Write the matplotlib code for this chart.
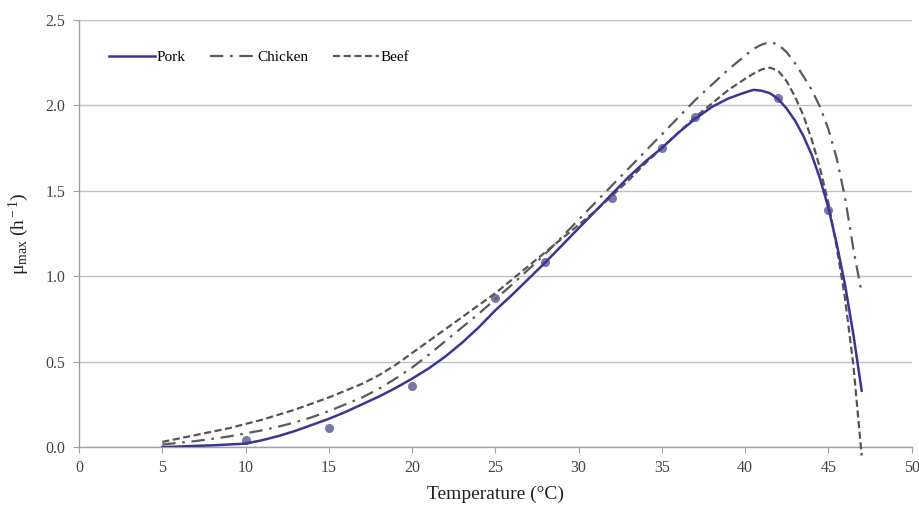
import matplotlib
matplotlib.use("Agg")
import matplotlib.pyplot as plt

temp_curve = [5, 6, 7, 8, 9, 10, 11, 12, 13, 14, 15, 16, 17, 18, 19, 20, 21, 22, 23, 24, 25,
              26, 27, 28, 29, 30, 31, 32, 33, 34, 35, 36, 37, 38, 39, 40, 40.5, 41, 41.5, 42,
              42.5, 43, 43.5, 44, 44.5, 45, 45.5, 46, 46.5, 47]

pork = [0.0, 0.003, 0.007, 0.01, 0.015, 0.02, 0.04, 0.065, 0.095, 0.13, 0.165, 0.205, 0.25,
        0.295, 0.345, 0.40, 0.46, 0.53, 0.61, 0.70, 0.80, 0.89, 0.985, 1.08, 1.18, 1.28, 1.38,
        1.48, 1.58, 1.67, 1.75, 1.84, 1.92, 1.99, 2.04, 2.075, 2.09, 2.085, 2.07, 2.035, 1.98,
        1.91, 1.82, 1.71, 1.57, 1.40, 1.19, 0.95, 0.66, 0.33]

chicken = [0.015, 0.025, 0.035, 0.048, 0.062, 0.08, 0.098, 0.12, 0.145, 0.175, 0.21, 0.25,
           0.29, 0.34, 0.40, 0.465, 0.54, 0.62, 0.70, 0.78, 0.865, 0.95, 1.04, 1.13, 1.23,
           1.33, 1.43, 1.53, 1.63, 1.73, 1.83, 1.93, 2.03, 2.12, 2.21, 2.29, 2.33, 2.355,
           2.37, 2.355, 2.31, 2.245, 2.17, 2.09, 1.99, 1.86, 1.69, 1.46, 1.16, 0.90]

beef = [0.03, 0.05, 0.07, 0.09, 0.11, 0.135, 0.16, 0.19, 0.22, 0.255, 0.29, 0.33, 0.37, 0.42,
        0.48, 0.55, 0.62, 0.69, 0.76, 0.83, 0.90, 0.98, 1.06, 1.14, 1.22, 1.30, 1.38, 1.47,
        1.56, 1.66, 1.75, 1.84, 1.93, 2.01, 2.09, 2.155, 2.185, 2.21, 2.22, 2.20, 2.14, 2.05,
        1.94, 1.80, 1.63, 1.43, 1.17, 0.87, 0.48, -0.05]

temp_obs = [10, 15, 20, 25, 28, 32, 35, 37, 42, 45]
pork_obs = [0.04, 0.11, 0.36, 0.87, 1.08, 1.46, 1.75, 1.93, 2.04, 1.39]

x_ticks = [0, 5, 10, 15, 20, 25, 30, 35, 40, 45, 50]
y_ticks = [0.0, 0.5, 1.0, 1.5, 2.0, 2.5]

plt.rcParams['font.family'] = ['Liberation Serif', 'DejaVu Serif']
plt.rcParams['mathtext.fontset'] = 'custom'
plt.rcParams['mathtext.rm'] = 'Liberation Serif'
plt.rcParams['mathtext.it'] = 'Liberation Serif:italic'

fig = plt.figure(figsize=(9.2, 5.08), dpi=100)
ax = fig.add_axes([0.0859, 0.120, 0.905, 0.841])

for y in y_ticks:
    ax.axhline(y, color='#c0c0c0', lw=1.0, zorder=0)

ax.plot(temp_obs, pork_obs, 'o', color='#7b76a8', ms=5.5, zorder=2, clip_on=False)
ax.plot(temp_curve, pork, '-', color='#3a3596', lw=1.8, label='Pork', zorder=4)
ax.plot(temp_curve, chicken, color='#5a5a5a', lw=1.6, dashes=(6, 3, 1.2, 3),
        label='Chicken', zorder=3, clip_on=False)
ax.plot(temp_curve, beef, color='#555555', lw=1.6, dashes=(3.2, 1.6),
        label='Beef', zorder=3, clip_on=False)

ax.set_xlim(0, 50)
ax.set_ylim(0, 2.5)
ax.set_xticks(x_ticks)
ax.set_yticks(y_ticks)
ax.set_xticklabels([str(t) for t in x_ticks])
ax.set_yticklabels([f"{t:.1f}" for t in y_ticks])

for s in ['top', 'right']:
    ax.spines[s].set_visible(False)
for s in ['left', 'bottom']:
    ax.spines[s].set_color('#a0a0a0')
    ax.spines[s].set_linewidth(1.0)
ax.tick_params(axis='both', colors='#a0a0a0', labelcolor='#444444', labelsize=11.5,
               direction='out', length=4)
ax.tick_params(axis='x', pad=5)
ax.tick_params(axis='y', pad=6)

ax.set_xlabel('Temperature (°C)', fontsize=14, color='#222222', labelpad=7)
ax.set_ylabel(r'$\mathrm{\mu}_{\rm max}$ (h$^{\rm -1}$)', fontsize=14, color='#222222',
              labelpad=10)

leg = ax.legend(loc='upper left', bbox_to_anchor=(0.02, 0.96), ncol=3, frameon=False,
                fontsize=11, handlelength=3.0, handletextpad=0.1, columnspacing=1.6)

fig.savefig('out.png', dpi=100)
